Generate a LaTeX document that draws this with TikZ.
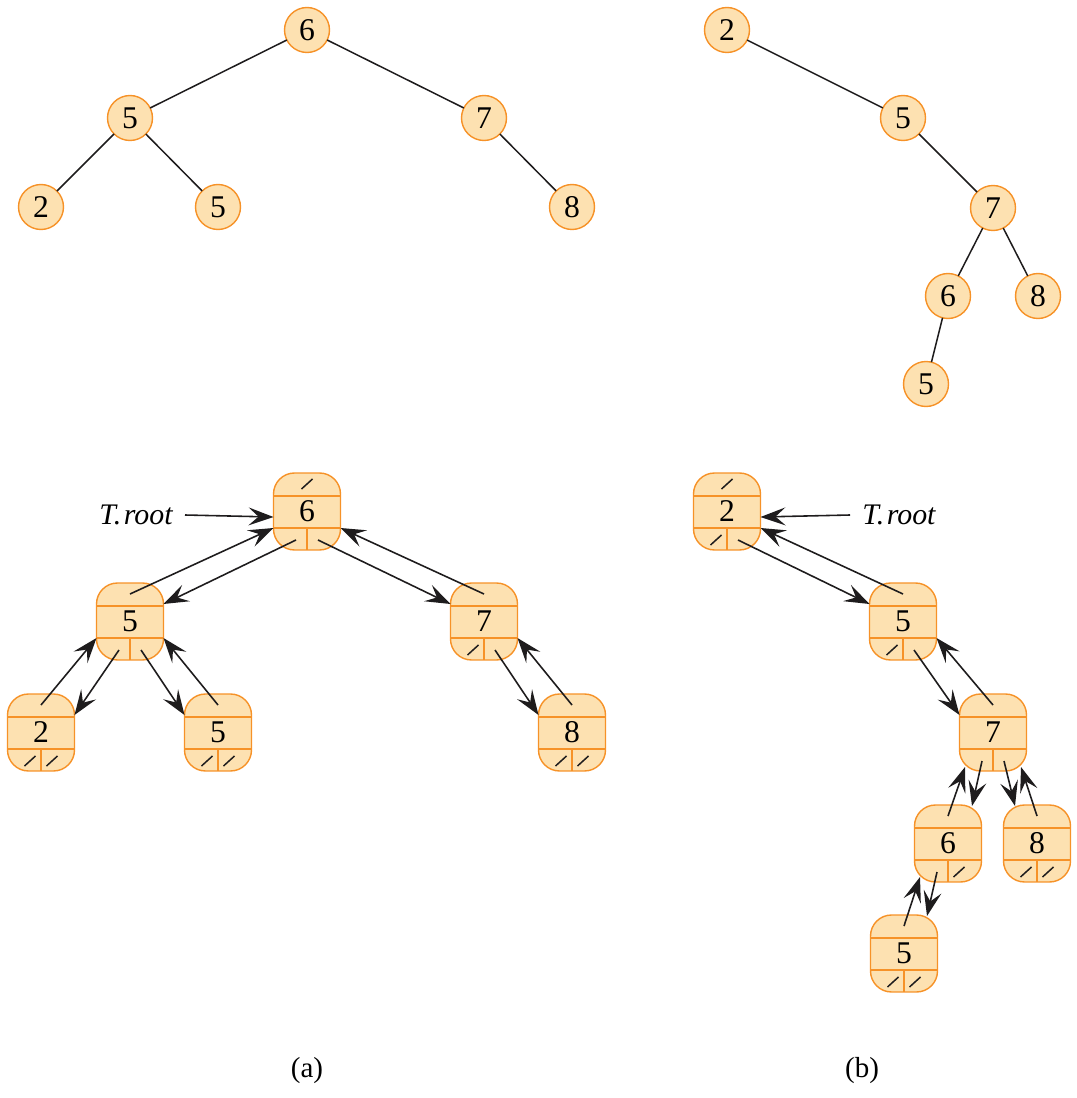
\documentclass[tikz,border=0pt]{standalone}
\usepackage{fontspec}
\setmainfont{Liberation Serif}
\usetikzlibrary{calc,arrows.meta}

\definecolor{peach}{RGB}{253,225,177}
\definecolor{rim}{RGB}{246,146,40}
\definecolor{ink}{RGB}{30,28,29}

\tikzset{
  keynode/.style={circle, draw=rim, fill=peach, line width=0.8pt,
    minimum size=0.9cm, inner sep=0pt, outer sep=0pt,
    font=\fontsize{18pt}{20pt}\selectfont},
  lbox/.style={rectangle, rounded corners=0.42cm, draw=rim, fill=peach,
    line width=0.8pt, minimum width=1.34cm, minimum height=1.54cm,
    inner sep=0pt, outer sep=0pt, font=\fontsize{18pt}{20pt}\selectfont},
  divider/.style={draw=rim, line width=0.8pt},
  nilline/.style={draw=ink, line width=0.85pt},
  edge/.style={draw=ink, line width=0.85pt},
  ptr/.style={draw=ink, line width=0.9pt,
    -{Stealth[length=0.5cm, width=0.36cm, inset=0.2cm]}},
  rootlabel/.style={inner ysep=0pt, inner xsep=0.24cm,
    font=\fontsize{17pt}{19pt}\selectfont\itshape},
  caption/.style={font=\fontsize{16.5pt}{18pt}\selectfont}
}

% A linked-tree node: parent cell on top, key in the middle,
% left and right child cells at the bottom.
\newcommand\lnode[4]{%
  \node[lbox, anchor=north] (#1) at (#2,#3) {#4};
  \draw[divider] ($(#1.north west)+(0,23)$) -- ($(#1.north east)+(0,23)$);
  \draw[divider] ($(#1.north west)+(0,55)$) -- ($(#1.north east)+(0,55)$);
  \draw[divider] ($(#1.north)+(0,55)$) -- (#1.south);
  \coordinate (#1-p)  at ($(#1.north)+(0,11)$);
  \coordinate (#1-l)  at ($(#1.north)+(-11,67)$);
  \coordinate (#1-r)  at ($(#1.north)+(11,67)$);
  \coordinate (#1-wl) at ($(#1.north west)+(0,55)$);
  \coordinate (#1-el) at ($(#1.north east)+(0,55)$);
  \coordinate (#1-wu) at ($(#1.north west)+(0,21)$);
  \coordinate (#1-eu) at ($(#1.north east)+(0,21)$);
}
% NIL marks in the parent (p), left (l) or right (r) cell
\newcommand\nilp[1]{\draw[nilline] ($(#1.north)+(-5.5,16)$) -- ++(11,-10);}
\newcommand\nill[1]{\draw[nilline] ($(#1.north)+(-16.5,72)$) -- ++(11,-10);}
\newcommand\nilr[1]{\draw[nilline] ($(#1.north)+(5.5,72)$) -- ++(11,-10);}

\begin{document}
\begin{tikzpicture}[x=0.02cm, y=-0.02cm]
\path[use as bounding box] (0,0) rectangle (1077,1098);

% ---------- tree (a), keys only ----------
\node[keynode] (c6)  at (307,30)  {6};
\node[keynode] (c5)  at (130,118) {5};
\node[keynode] (c7)  at (484,118) {7};
\node[keynode] (c2)  at (41,207)  {2};
\node[keynode] (c5r) at (218,207) {5};
\node[keynode] (c8)  at (572,207) {8};
\draw[edge] (c6) -- (c5);
\draw[edge] (c6) -- (c7);
\draw[edge] (c5) -- (c2);
\draw[edge] (c5) -- (c5r);
\draw[edge] (c7) -- (c8);

% ---------- tree (b), keys only ----------
\node[keynode] (d2)  at (727,30)  {2};
\node[keynode] (d5)  at (903,118) {5};
\node[keynode] (d7)  at (993,208) {7};
\node[keynode] (d6)  at (948,296) {6};
\node[keynode] (d8)  at (1038,296) {8};
\node[keynode] (d5b) at (926,384) {5};
\draw[edge] (d2) -- (d5);
\draw[edge] (d5) -- (d7);
\draw[edge] (d7) -- (d6);
\draw[edge] (d7) -- (d8);
\draw[edge] (d6) -- (d5b);

% ---------- tree (a), linked representation ----------
\lnode{A6}{307}{473}{6}
\lnode{A5}{130}{583}{5}
\lnode{A7}{484}{583}{7}
\lnode{A2}{41}{694}{2}
\lnode{A5r}{218}{694}{5}
\lnode{A8}{572}{694}{8}
\nilp{A6}
\nill{A7}
\nill{A2}\nilr{A2}
\nill{A5r}\nilr{A5r}
\nill{A8}\nilr{A8}

\node[rootlabel, anchor=east] (ta) at (185,515) {T.\kern1.5pt root};
\coordinate (A6-in) at ($(A6.north west)+(0,44)$);
\draw[ptr] (ta.east) -- (A6-in);

\draw[ptr] (A5-p) -- (A6-wl);
\draw[ptr] (A6-l) -- (A5-eu);
\draw[ptr] (A6-r) -- (A7-wu);
\draw[ptr] (A7-p) -- (A6-el);
\draw[ptr] (A2-p) -- (A5-wl);
\draw[ptr] (A5-l) -- (A2-eu);
\draw[ptr] (A5-r) -- (A5r-wu);
\draw[ptr] (A5r-p) -- (A5-el);
\draw[ptr] (A7-r) -- (A8-wu);
\draw[ptr] (A8-p) -- (A7-el);

% ---------- tree (b), linked representation ----------
\lnode{B2}{727}{473}{2}
\lnode{B5}{903}{583}{5}
\lnode{B7}{993}{694}{7}
\lnode{B6}{948}{805}{6}
\lnode{B8}{1037}{805}{8}
\lnode{B5b}{904}{915}{5}
\nilp{B2}\nill{B2}
\nill{B5}
\nilr{B6}
\nill{B8}\nilr{B8}
\nill{B5b}\nilr{B5b}

\node[rootlabel, anchor=west] (tb) at (850,515) {T.\kern1.5pt root};
\coordinate (B2-in) at ($(B2.north east)+(0,44)$);
\draw[ptr] (tb.west) -- (B2-in);

\draw[ptr] (B2-r) -- (B5-wu);
\draw[ptr] (B5-p) -- (B2-el);
\draw[ptr] (B5-r) -- (B7-wu);
\draw[ptr] (B7-p) -- (B5-el);

% steep links below node 7 meet the rounded corners
\coordinate (B6-top)  at ($(B6.north)+(24,1)$);
\coordinate (B8-top)  at ($(B8.north)+(-22,1)$);
\coordinate (B5b-top) at ($(B5b.north)+(23,1)$);
\coordinate (B7-bl)   at ($(B7.north)+(-28,73)$);
\coordinate (B7-br)   at ($(B7.north)+(28,73)$);
\coordinate (B6-bl)   at ($(B6.north)+(-28,72)$);
\draw[ptr] (B7-l) -- (B6-top);
\draw[ptr] (B6-p) -- (B7-bl);
\draw[ptr] (B7-r) -- (B8-top);
\draw[ptr] (B8-p) -- (B7-br);
\draw[ptr] (B6-l) -- (B5b-top);
\draw[ptr] (B5b-p) -- (B6-bl);

% ---------- captions ----------
\node[caption] (capa) at (307,1071) {(a)};
\node[caption] (capb) at (862,1071) {(b)};
\end{tikzpicture}
\end{document}
